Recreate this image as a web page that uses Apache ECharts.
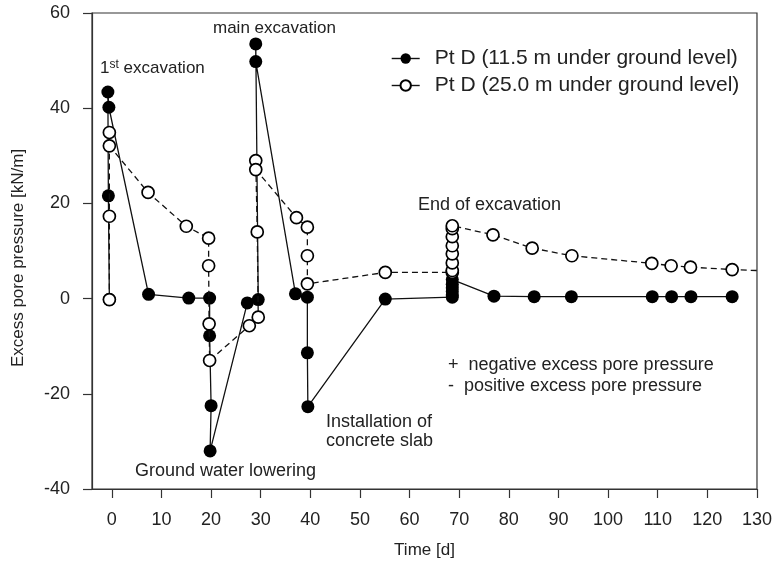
<!DOCTYPE html>
<html>
<head>
<meta charset="utf-8">
<script src="https://cdn.jsdelivr.net/npm/echarts@6/dist/echarts.min.js"></script>
<style>html,body{margin:0;padding:0;background:#fff}#c{width:775px;height:565px}</style>
</head>
<body>
<div id="c"></div>
<script>
// ---- data ----
var xTicks = [0, 10, 20, 30, 40, 50, 60, 70, 80, 90, 100, 110, 120, 130];
var yTicks = [-40, -20, 0, 20, 40, 60];

var shallowName = 'Pt D (11.5 m under ground level)';
var shallowT = [-0.5, -0.7, -0.8, -0.6, 7.4, 15.5, 19.7, 19.7, 20.0, 19.8, 27.3, 29.5, 29.0, 29.0, 37.0, 39.4, 39.4, 39.5, 55.1, 68.6, 68.6, 68.6, 68.6, 68.6, 68.6, 77.0, 85.1, 92.6, 108.9, 112.8, 116.7, 125.0];
var shallowP = [-0.2, 21.6, 43.4, 40.2, 0.9, 0.1, 0.1, -7.8, -22.5, -32.0, -0.9, -0.2, 53.5, 49.8, 1.0, 0.3, -11.4, -22.7, -0.1, 0.3, 0.8, 1.5, 2.3, 3.0, 4.0, 0.5, 0.4, 0.4, 0.4, 0.4, 0.4, 0.4];

var deepName = 'Pt D (25.0 m under ground level)';
var deepT = [-0.5, -0.5, -0.5, -0.5, 7.3, 15.0, 19.5, 19.5, 19.6, 19.7, 27.7, 29.5, 29.3, 29.0, 29.0, 37.2, 39.4, 39.4, 39.4, 55.1, 68.6, 68.6, 68.6, 68.6, 68.6, 68.6, 68.6, 68.6, 76.8, 84.7, 92.7, 108.8, 112.7, 116.6, 125.0, 130.0];
var deepP = [-0.2, 17.3, 34.9, 32.1, 22.3, 15.2, 12.7, 6.9, -5.3, -13.0, -5.7, -3.9, 14.0, 29.0, 27.1, 17.0, 15.0, 9.0, 3.1, 5.5, 5.5, 5.9, 7.5, 9.4, 11.1, 13.0, 14.7, 15.3, 13.4, 10.6, 9.0, 7.4, 6.9, 6.6, 6.1, 5.9];
var deepMarkerless = [35]; // index of the trailing point drawn without marker (line continues to frame)

// ---- chart ----
var FONT = '"Liberation Sans", Arial, sans-serif';
var INK = '#222';
function pairs(t, p, skip) {
  return t.map(function (x, i) {
    var d = { value: [x, p[i]] };
    if (skip && skip.indexOf(i) >= 0) d.symbol = 'none';
    return d;
  });
}

var chart = echarts.init(document.getElementById('c'), null, { renderer: 'canvas' });
chart.setOption({
  animation: false,
  backgroundColor: '#fff',
  textStyle: { fontFamily: FONT },
  grid: { left: 92, right: 15, top: 13, bottom: 76, show: true, borderColor: '#333', borderWidth: 1.2 },
  xAxis: {
    type: 'value', min: -4, max: 130,
    name: 'Time [d]', nameLocation: 'middle', nameGap: 53,
    nameTextStyle: { fontSize: 17, color: INK, fontFamily: FONT },
    axisLine: { show: true, onZero: false, lineStyle: { color: '#333', width: 1.2 } },
    axisTick: { show: true, inside: false, length: 9, customValues: xTicks, lineStyle: { color: '#333', width: 1.2 } },
    axisLabel: { customValues: xTicks, margin: 22, fontSize: 18, color: INK, fontFamily: FONT },
    splitLine: { show: false }
  },
  yAxis: {
    type: 'value', min: -40, max: 60, interval: 20,
    name: 'Excess pore pressure [kN/m]', nameLocation: 'middle', nameGap: 65, nameRotate: 90,
    nameTextStyle: { fontSize: 17, color: INK, fontFamily: FONT, padding: [0, 14, 0, 0] },
    axisLine: { show: true, onZero: false, lineStyle: { color: '#333', width: 1.2 } },
    axisTick: { show: true, inside: false, length: 9, lineStyle: { color: '#333', width: 1.2 } },
    axisLabel: { margin: 22, fontSize: 18, color: INK, fontFamily: FONT },
    splitLine: { show: false }
  },
  legend: {
    orient: 'vertical', left: 386, top: 43,
    itemWidth: 28, itemHeight: 13, itemGap: 6,
    textStyle: { fontSize: 21, color: INK, fontFamily: FONT, padding: [0, 0, 0, 10] },
    lineStyle: { type: 'solid', width: 1.4, color: '#111' },
    data: [shallowName, deepName]
  },
  series: [
    {
      name: shallowName, type: 'line', z: 2,
      data: pairs(shallowT, shallowP),
      symbol: 'circle', symbolSize: 13, showAllSymbol: true,
      lineStyle: { color: '#111', width: 1.3, type: 'solid' },
      itemStyle: { color: '#000', borderColor: '#000', borderWidth: 0 }
    },
    {
      name: deepName, type: 'line', z: 3,
      data: pairs(deepT, deepP, deepMarkerless),
      symbol: 'circle', symbolSize: 12, showAllSymbol: true,
      lineStyle: { color: '#111', width: 1.3, type: [6, 4] },
      itemStyle: { color: '#fff', borderColor: '#000', borderWidth: 1.7 }
    }
  ],
  graphic: [
    { type: 'text', left: 100, top: 59, style: { text: '{a|1}{s|st}{a| excavation}', rich: { a: { fontSize: 17, fontFamily: FONT, fill: INK }, s: { fontSize: 12, fontFamily: FONT, fill: INK, verticalAlign: 'top', padding: [0, 0, 6, 0] } } } },
    { type: 'text', left: 213, top: 20, style: { text: 'main excavation', font: '17px ' + FONT, fill: INK } },
    { type: 'text', left: 418, top: 196, style: { text: 'End of excavation', font: '18px ' + FONT, fill: INK } },
    { type: 'text', left: 326, top: 413, style: { text: 'Installation of\nconcrete slab', font: '18px ' + FONT, fill: INK, lineHeight: 19 } },
    { type: 'text', left: 135, top: 462, style: { text: 'Ground water lowering', font: '18px ' + FONT, fill: INK } },
    { type: 'text', left: 448, top: 355, style: { text: '+  negative excess pore pressure\n-  positive excess pore pressure', font: '18px ' + FONT, fill: INK, lineHeight: 21 } }
  ]
});
</script>
</body>
</html>
